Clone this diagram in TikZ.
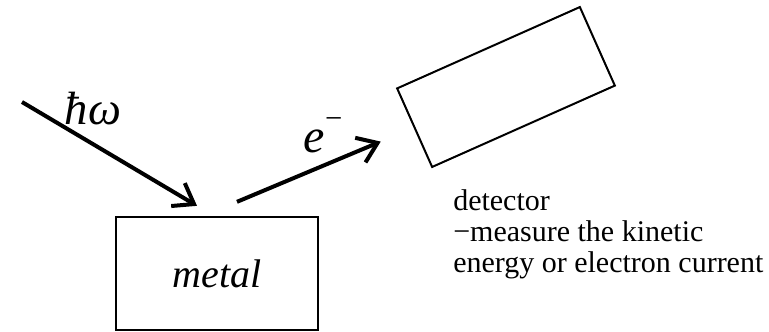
\documentclass[tikz,border=0pt]{standalone}
\usepackage{fontspec}
\setmainfont{Liberation Serif}
\usetikzlibrary{arrows.meta, positioning}
\tikzset{
  sample/.style={rectangle, draw=black, line width=1.5pt, minimum width=151.5pt, minimum height=85pt, inner sep=0pt, font=\fontsize{30}{32}\selectfont\itshape},
  detbox/.style={rectangle, draw=black, line width=1.5pt, minimum width=150pt, minimum height=64.5pt, inner sep=0pt, rotate=24},
  beam/.style={line width=3pt, -{Straight Barb[length=14pt, width=20pt]}},
  note/.style={align=left, inner sep=0pt, font=\fontsize{22.5}{23.4}\selectfont}
}
\begin{document}
\begin{tikzpicture}[x=0.75pt, y=-0.75pt]
    \useasboundingbox (0,0) rectangle (769,332);

    % 1. Metal sample and detector
    \node[sample] (metal) at (217,273.5) {metal};
    \node[detbox] (detector) at (506,87) {};

    % 2. Incoming photon
    \coordinate (photon) at (22,102);
    \draw[beam] (photon) -- ([shift={(-20,-10)}]metal.north);
    \node[font=\fontsize{35}{35}\selectfont\itshape] (hw) at (93,109) {ħω};

    % 3. Emitted electron
    \draw[beam] ([shift={(20,-14)}]metal.north) -- ([shift={(-33,13.5)}]detector.west);
    \node[font=\fontsize{36}{36}\selectfont\itshape, anchor=base] (elec) at (323,152) {e\raisebox{0.5em}{\fontsize{23}{23}\selectfont\upshape −}};

    % 4. Detector description
    \node[note, anchor=north west] (desc) at (453,189) {detector\\−measure the kinetic\\energy or electron current};
\end{tikzpicture}
\end{document}
